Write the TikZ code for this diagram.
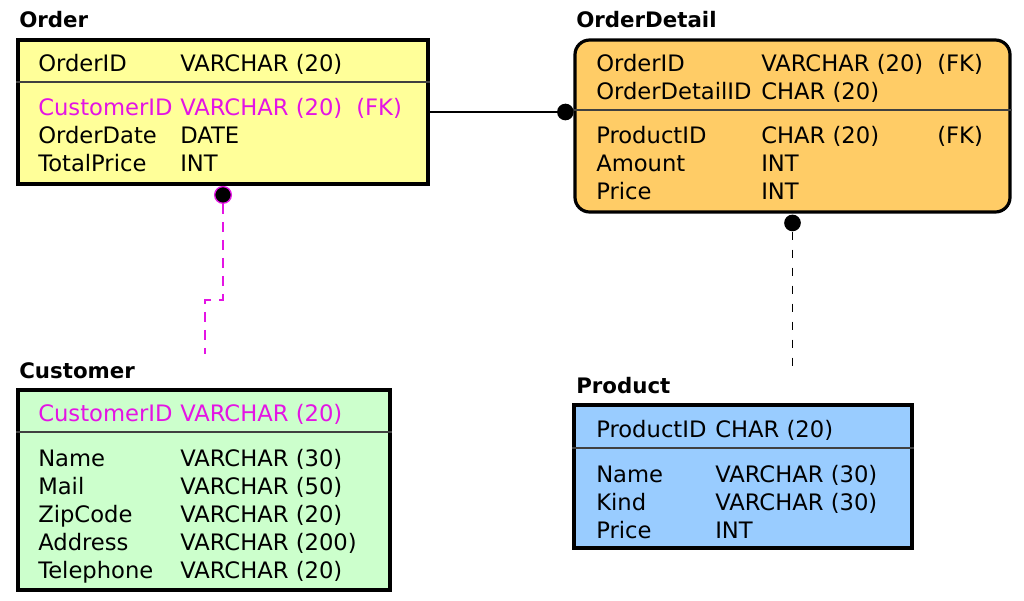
\documentclass[tikz,border=0pt]{standalone}
\usepackage{fontspec}
\setmainfont{DejaVu Sans}
\usetikzlibrary{fit}
\definecolor{fkmag}{RGB}{228,20,228}
\definecolor{ordfill}{RGB}{255,255,153}
\definecolor{odfill}{RGB}{255,204,102}
\definecolor{custfill}{RGB}{204,255,204}
\definecolor{prodfill}{RGB}{153,204,255}
\begin{document}
\begin{tikzpicture}[x=0.75pt,y=-0.75pt,
  tbl/.style={draw=black, line width=2.4pt, inner sep=0pt},
  txt/.style={anchor=base west, inner sep=0pt, font=\fontsize{17}{20}\selectfont},
  ttl/.style={anchor=base west, inner sep=0pt, font=\fontsize{16}{19}\selectfont\bfseries},
  divider/.style={line width=1.5pt, draw=black!75},
  rel/.style={line width=1.4pt},
  dotblk/.style={circle, fill=black, inner sep=0pt, minimum size=12.5pt},
  fkdash/.style={dash pattern=on 7.5pt off 6pt},
  blkdash/.style={dash pattern=on 6pt off 7.5pt}]
\useasboundingbox (0,0) rectangle (1024,600);

% ---- tables
\node[tbl, fill=ordfill, fit={(18,40) (428,184)}] (order) {};
\node[tbl, fill=odfill, rounded corners=11pt, fit={(575,40) (1010,212)}] (od) {};
\node[tbl, fill=custfill, fit={(18,390) (390,590)}] (cust) {};
\node[tbl, fill=prodfill, fit={(574,405) (912,548)}] (prod) {};

\draw[divider] ([yshift=-33pt]order.north west) -- ([yshift=-33pt]order.north east);
\draw[divider] ([yshift=-54pt]od.north west) -- ([yshift=-54pt]od.north east);
\draw[divider] ([yshift=-33pt]cust.north west) -- ([yshift=-33pt]cust.north east);
\draw[divider] ([yshift=-33.75pt]prod.north west) -- ([yshift=-33.75pt]prod.north east);

% ---- titles
\node[ttl] (tOrder) at (19,27) {Order};
\node[ttl] (tOD) at (576,27) {OrderDetail};
\node[ttl] (tCust) at (19,378) {Customer};
\node[ttl] (tProd) at (576,393) {Product};

% ---- Order rows
\node[txt] (o1a) at (38,71.5) {OrderID};
\node[txt] (o1b) at (180,71.5) {VARCHAR (20)};
\node[txt, text=fkmag] (o2a) at (38,115.5) {CustomerID};
\node[txt, text=fkmag] (o2b) at (180,115.5) {VARCHAR (20)};
\node[txt, text=fkmag] (o2c) at (356,115.5) {(FK)};
\node[txt] (o3a) at (38,143.5) {OrderDate};
\node[txt] (o3b) at (180,143.5) {DATE};
\node[txt] (o4a) at (38,171.5) {TotalPrice};
\node[txt] (o4b) at (180,171.5) {INT};

% ---- OrderDetail rows
\node[txt] (d1a) at (596,71.5) {OrderID};
\node[txt] (d1b) at (761,71.5) {VARCHAR (20)};
\node[txt] (d1c) at (937,71.5) {(FK)};
\node[txt] (d2a) at (596,99.5) {OrderDetailID};
\node[txt] (d2b) at (761,99.5) {CHAR (20)};
\node[txt] (d3a) at (596,143.5) {ProductID};
\node[txt] (d3b) at (761,143.5) {CHAR (20)};
\node[txt] (d3c) at (937,143.5) {(FK)};
\node[txt] (d4a) at (596,171.5) {Amount};
\node[txt] (d4b) at (761,171.5) {INT};
\node[txt] (d5a) at (596,199.5) {Price};
\node[txt] (d5b) at (761,199.5) {INT};

% ---- Customer rows
\node[txt, text=fkmag] (c1a) at (38,421.5) {CustomerID};
\node[txt, text=fkmag] (c1b) at (180,421.5) {VARCHAR (20)};
\node[txt] (c2a) at (38,466.5) {Name};
\node[txt] (c2b) at (180,466.5) {VARCHAR (30)};
\node[txt] (c3a) at (38,494.5) {Mail};
\node[txt] (c3b) at (180,494.5) {VARCHAR (50)};
\node[txt] (c4a) at (38,522.5) {ZipCode};
\node[txt] (c4b) at (180,522.5) {VARCHAR (20)};
\node[txt] (c5a) at (38,550.5) {Address};
\node[txt] (c5b) at (180,550.5) {VARCHAR (200)};
\node[txt] (c6a) at (38,578.5) {Telephone};
\node[txt] (c6b) at (180,578.5) {VARCHAR (20)};

% ---- Product rows
\node[txt] (p1a) at (596,437.5) {ProductID};
\node[txt] (p1b) at (715,437.5) {CHAR (20)};
\node[txt] (p2a) at (596,482.5) {Name};
\node[txt] (p2b) at (715,482.5) {VARCHAR (30)};
\node[txt] (p3a) at (596,510.5) {Kind};
\node[txt] (p3b) at (715,510.5) {VARCHAR (30)};
\node[txt] (p4a) at (596,538.5) {Price};
\node[txt] (p4b) at (715,538.5) {INT};

% ---- connectors
% Order -- OrderDetail
\draw[rel] (order.east) -- (order.east -| od.west);
\node[dotblk] (dotOD) at ([xshift=-6pt]order.east -| od.west) {};

% Order -- Customer
\node[dotblk, draw=fkmag, line width=1pt] (dotCust) at ([yshift=-7pt]order.south) {};
\coordinate (bend) at (0,300);
\coordinate (custEnd) at (205,354);
\draw[rel, fkmag, fkdash] (dotCust.south) -- (dotCust |- bend) -- (custEnd |- bend) -- (custEnd);

% OrderDetail -- Product
\node[dotblk] (dotProd) at ([yshift=-7pt]od.south) {};
\coordinate (prodEnd) at (792,370);
\draw[rel, blkdash] (dotProd.south) -- (dotProd.south |- prodEnd);
\end{tikzpicture}
\end{document}
